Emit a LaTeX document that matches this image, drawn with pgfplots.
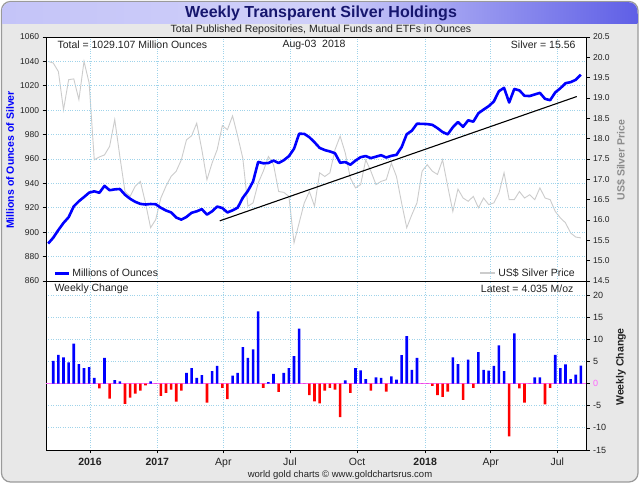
\documentclass[border=0pt]{standalone}
\usepackage{pgfplots}
\pgfplotsset{compat=1.18}
\usepackage{pgfplotstable}
\usepackage{fontspec}
\setmainfont{Liberation Sans}
\definecolor{panelgray}{HTML}{E8E8E8}
\definecolor{framegray}{HTML}{9A9A9A}
\definecolor{gridblue}{HTML}{9FD3EA}
\definecolor{titleL}{HTML}{C4C4F8}
\definecolor{titleR}{HTML}{5F5FE6}
\definecolor{titlenavy}{HTML}{16166E}
\definecolor{pricegray}{HTML}{CCCCCC}
\definecolor{zeromag}{HTML}{FF66FF}
\definecolor{txt}{HTML}{222222}
\definecolor{hblue}{HTML}{0000FF}
\definecolor{hred}{HTML}{FF0000}

\pgfplotstableread{
i hold price
-1 890.7 19.90
0 895.5 19.86
1 901.8 19.65
2 907.6 18.71
3 912.3 19.45
4 921.2 19.47
5 925.4 18.96
6 928.8 19.90
7 932.4 19.37
8 933.5 17.48
9 932.3 17.55
10 938.0 17.60
11 934.4 17.81
12 935.1 18.47
13 935.4 17.56
14 930.7 16.70
15 927.4 16.58
16 924.9 16.83
17 923.2 16.95
18 922.7 16.42
19 923.1 15.81
20 922.9 16.01
21 920.0 16.54
22 917.8 16.83
23 916.2 17.07
24 912.0 17.20
25 910.3 17.48
26 912.5 17.97
27 915.9 18.07
28 917.1 18.38
29 918.9 17.73
30 914.4 16.99
31 917.1 17.40
32 921.0 17.73
33 919.8 18.32
34 916.2 18.22
35 917.9 18.56
36 920.1 18.06
37 928.2 17.52
38 933.9 16.34
39 941.5 16.42
40 957.6 16.91
41 956.5 17.20
42 956.7 17.56
43 958.7 17.36
44 956.7 16.70
45 959.0 16.68
46 962.3 16.58
47 968.4 15.44
48 980.7 15.93
49 980.6 16.42
50 977.8 16.70
51 973.7 16.34
52 969.1 17.16
53 967.3 17.07
54 966.2 17.16
55 964.7 17.73
56 956.9 18.06
57 957.5 17.65
58 955.3 17.03
59 958.7 16.79
60 961.5 16.87
61 962.4 17.48
62 960.7 17.20
63 961.9 16.87
64 963.1 16.95
65 961.2 16.99
66 962.6 17.40
67 963.4 17.07
68 969.7 16.42
69 980.3 15.81
70 983.2 16.13
71 988.9 16.42
72 988.8 17.20
73 988.6 17.36
74 988.0 17.20
75 985.3 17.12
76 982.1 17.48
77 980.2 16.83
78 986.0 16.21
79 990.3 16.76
80 986.4 16.54
81 991.7 16.46
82 990.6 16.58
83 997.5 16.30
84 1000.5 16.54
85 1003.3 16.38
86 1007.1 16.42
87 1015.6 16.66
88 1018.3 17.16
89 1006.3 16.50
90 1017.4 16.50
91 1016.2 16.70
92 1011.8 16.54
93 1011.6 16.62
94 1012.9 16.50
95 1014.2 16.79
96 1009.3 16.54
97 1008.2 16.50
98 1014.6 16.21
99 1018.0 16.05
100 1022.1 15.93
101 1023.0 15.68
102 1024.9 15.58
103 1029.1 15.56
}\holdtab

\pgfplotstableread{
i chg
0 5.1
1 6.5
2 5.9
3 4.8
4 9.0
5 4.4
6 3.5
7 3.7
8 1.3
9 -1.1
10 5.8
11 -3.4
12 0.75
13 0.5
14 -4.6
15 -3.2
16 -2.3
17 -1.6
18 -0.4
19 0.5
20 0
21 -2.8
22 -2.1
23 -1.4
24 -4.1
25 -1.6
26 2.4
27 3.5
28 1.3
29 1.9
30 -4.3
31 2.8
32 4.0
33 -1.0
34 -3.5
35 1.8
36 2.4
37 8.2
38 5.8
39 7.7
40 16.3
41 -1.0
42 0.3
43 2.2
44 -1.9
45 2.4
46 3.5
47 6.2
48 12.4
49 0
50 -2.6
51 -4.0
52 -4.5
53 -1.6
54 -1.0
55 -1.4
56 -7.6
57 0.7
58 -2.1
59 3.5
60 3.0
61 1.0
62 -1.6
63 1.4
64 1.3
65 -1.8
66 1.6
67 0.9
68 6.4
69 10.7
70 3.1
71 5.8
72 0
73 0
74 -0.5
75 -2.6
76 -3.0
77 -1.8
78 5.9
79 4.4
80 -3.7
81 5.4
82 -1.0
83 7.1
84 3.1
85 2.9
86 4.0
87 8.6
88 2.8
89 -11.9
90 11.3
91 -1.1
92 -4.3
93 0
94 1.4
95 1.4
96 -4.7
97 -1.0
98 6.5
99 3.5
100 4.3
101 1.0
102 2.0
103 4.035
}\chgtab

\pgfplotstableread{
i trend
32.5 909.3
102.2 1011.2
}\trendtab

\newcommand{\fs}[1]{\fontsize{#1bp}{#1bp}\selectfont}

\pgfplotsset{
  common/.style={
    scale only axis, width=540bp,
    xmin=-1.42, xmax=104,
    xtick={7.16,20.3,33.2,46.2,59.3,72.6,85.4,98.4},
    /pgf/number format/assume math mode=true,
    /pgf/number format/1000 sep={},
    tick label style={font=\fs{8.5}, text=txt},
    tick align=outside, major tick length=3.5bp,
    tick style={black, line width=0.6bp},
    axis line style={black, line width=0.8bp},
    grid=major, grid style={dotted, gridblue, line width=0.7bp},
  }
}

\begin{document}
\begin{tikzpicture}[x=1bp,y=1bp]
\fill[white] (0,0) rectangle (640,484);
\draw[draw=framegray, fill=panelgray, rounded corners=9bp, line width=1.2bp] (1.5,2) rectangle (638,482.5);
\shade[left color=titleL, right color=titleR, middle color=titleL!80!white, rounded corners=9bp] (2.1,460) rectangle (637.4,481.9);
\shade[left color=titleL, right color=titleR, middle color=titleL!80!white] (2.1,460) rectangle (637.4,470);
\fill[white] (46,203) rectangle (586,447);
\fill[white] (46,34) rectangle (586,203);

% right axis: silver price
\begin{axis}[common,
  at={(46bp,203bp)}, anchor=south west, height=244bp,
  axis x line=none, axis y line*=right,
  ymin=14.5, ymax=20.5,
  ytick={14.5,15,15.5,16,16.5,17,17.5,18,18.5,19,19.5,20,20.5},
  yticklabel style={/pgf/number format/.cd, fixed, fixed zerofill, precision=1},
  grid=none,
  legend style={at={(0.985,0.0)}, anchor=south east, draw=none, fill=none, font=\fs{10.5}, text=txt, inner sep=1bp},
  legend image code/.code={\draw[#1, line width=2.5bp] (0bp,0bp) -- (15bp,0bp);},
]
\addplot[pricegray, line width=0.9bp] table[x=i, y=price]{\holdtab};
\addlegendentry{US\$ Silver Price}
\end{axis}

% left axis: holdings
\begin{axis}[common,
  at={(46bp,203bp)}, anchor=south west, height=244bp,
  ymin=860, ymax=1060, ytick={860,880,...,1060},
  ytick pos=left, xticklabels={}, xtick style={draw=none},
  legend style={at={(0.012,0.0)}, anchor=south west, draw=none, fill=none, font=\fs{10.5}, text=txt, inner sep=1bp},
  legend image code/.code={\draw[#1] (0bp,0bp) -- (14bp,0bp);},
]
\addplot[hblue, line width=2.6bp, line join=round] table[x=i, y=hold]{\holdtab};
\addlegendentry{Millions of Ounces}
\addplot[black, line width=1.1bp, forget plot] table[x=i, y=trend]{\trendtab};
\end{axis}

% bottom axis: weekly change
\begin{axis}[common,
  at={(46bp,34bp)}, anchor=south west, height=169bp,
  ymin=-15, ymax=23.15, ytick={-15,-10,...,20},
  yticklabels={-15,-10,-5,\textcolor{zeromag}{0},5,10,15,20},
  ytick pos=right, yticklabel pos=right,
  yticklabel style={font=\fs{9}},
  xticklabels={\textbf{2016},\textbf{2017},Apr,Jul,Oct,\textbf{2018},Apr,Jul},
  xticklabel style={font=\fs{10.5}, yshift=-1bp},
  xtick pos=bottom,
]
\addplot[zeromag, line width=1bp] coordinates {(-1.42,0) (104,0)};
\addplot[ybar, bar width=2.6bp, bar shift=0pt, fill=hblue, draw=none, restrict y to domain=0:30] table[x=i, y=chg]{\chgtab};
\addplot[ybar, bar width=2.6bp, bar shift=0pt, fill=hred, draw=none, restrict y to domain=-30:0] table[x=i, y=chg]{\chgtab};
\end{axis}

% texts
\node[font=\fs{16}\bfseries, text=titlenavy] at (321,470.5) {Weekly Transparent Silver Holdings};
\node[font=\fs{10.5}, text=txt] at (321,454) {Total Published Repositories, Mutual Funds and ETFs in Ounces};
\node[anchor=west, font=\fs{10.5}, text=txt] at (54,439) {Total = 1029.107 Million Ounces};
\node[anchor=west, font=\fs{10.5}, text=txt] at (279,439) {Aug-03\ \ 2018};
\node[anchor=east, font=\fs{10.5}, text=txt] at (579,439) {Silver = 15.56};
\node[anchor=west, font=\fs{10.5}, text=txt] at (51,195) {Weekly Change};
\node[anchor=east, font=\fs{10.5}, text=txt] at (577,195) {Latest = 4.035 M/oz};
\node[rotate=90, font=\fs{10.5}\bfseries, text=hblue] at (10,324) {Millions of Ounces of Silver};
\node[rotate=90, font=\fs{10.5}\bfseries, text=black!45] at (621,324) {US\$ Silver Price};
\node[rotate=90, font=\fs{10.5}\bfseries, text=txt] at (621,117) {Weekly Change};
\node[font=\fs{9.5}, text=txt] at (340,9) {world gold charts © www.goldchartsrus.com};
\end{tikzpicture}
\end{document}
